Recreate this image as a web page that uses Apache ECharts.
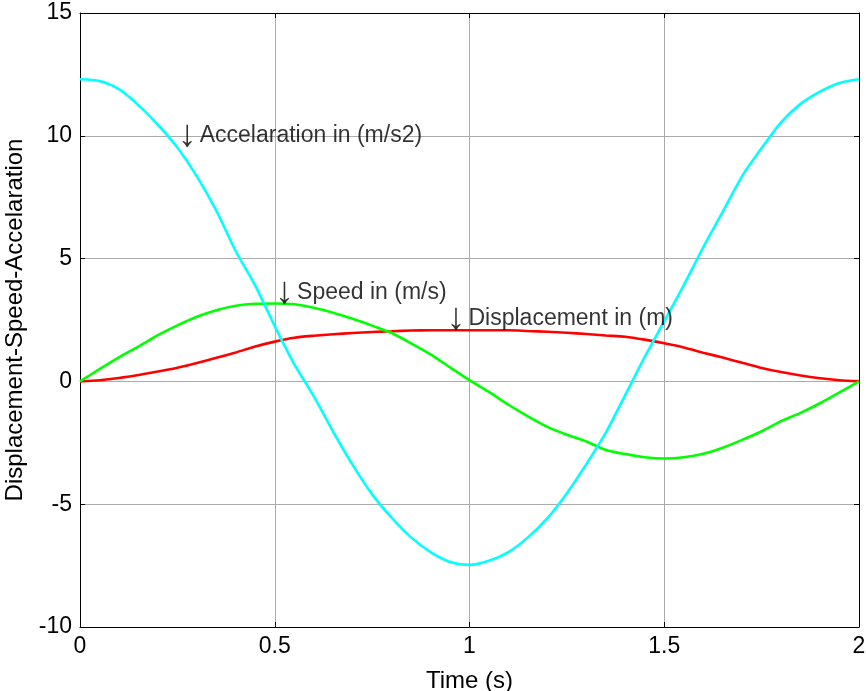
<!DOCTYPE html>
<html><head><meta charset="utf-8">
<script src="https://cdn.jsdelivr.net/npm/echarts@6/dist/echarts.min.js"></script>
<style>html,body{margin:0;padding:0;background:#fff}#c{width:866px;height:691px}</style>
</head><body><div id="c"></div>
<script>
const time = [0, 0.05, 0.1, 0.15, 0.2, 0.25, 0.3, 0.35, 0.4, 0.45, 0.5, 0.55, 0.6, 0.65, 0.7, 0.75, 0.8, 0.85, 0.9, 0.95, 1, 1.05, 1.1, 1.15, 1.2, 1.25, 1.3, 1.35, 1.4, 1.45, 1.5, 1.55, 1.6, 1.65, 1.7, 1.75, 1.8, 1.85, 1.9, 1.95, 2];
const displacement = [0, 0.05, 0.14, 0.26, 0.40, 0.56, 0.75, 0.96, 1.18, 1.42, 1.62, 1.78, 1.86, 1.92, 1.97, 2.01, 2.04, 2.07, 2.08, 2.08, 2.08, 2.08, 2.08, 2.05, 2.02, 1.98, 1.93, 1.87, 1.82, 1.70, 1.55, 1.38, 1.17, 0.97, 0.76, 0.55, 0.38, 0.24, 0.13, 0.05, 0];
const speed = [0, 0.50, 0.98, 1.42, 1.88, 2.28, 2.63, 2.90, 3.08, 3.16, 3.17, 3.14, 3.00, 2.80, 2.55, 2.27, 1.97, 1.55, 1.10, 0.57, 0.05, -0.43, -0.95, -1.42, -1.85, -2.17, -2.45, -2.79, -2.96, -3.09, -3.14, -3.09, -2.95, -2.70, -2.38, -2.03, -1.62, -1.28, -0.89, -0.45, 0];
const acceleration = [12.30, 12.23, 11.90, 11.25, 10.45, 9.52, 8.35, 6.95, 5.30, 3.90, 2.25, 0.70, -0.60, -2.05, -3.40, -4.60, -5.55, -6.35, -6.95, -7.35, -7.47, -7.30, -6.95, -6.35, -5.57, -4.55, -3.37, -2.09, -0.55, 1.00, 2.45, 3.91, 5.46, 6.90, 8.36, 9.50, 10.55, 11.30, 11.80, 12.15, 12.30];
const annotationText = ['Accelaration in (m/s2)', 'Speed in (m/s)', 'Displacement in (m)'];
const annotationX = [0.25, 0.5, 0.94];
const annotationY = [10, 3.6, 2.55];
const xLabel = 'Time (s)';
const yLabel = 'Displacement-Speed-Accelaration';

const FONT = 'Arial, "Liberation Sans", Helvetica, sans-serif';
const chart = echarts.init(document.getElementById('c'), null, {renderer: 'canvas'});
const pairs = arr => time.map((t, i) => [t, arr[i]]);
const lineSeries = (name, arr, color) => ({
  name, type: 'line', data: pairs(arr), showSymbol: false, symbol: 'none',
  smooth: 0.25,
  lineStyle: {color, width: 2.6}, itemStyle: {color}, silent: true, animation: false
});
const baseAxis = {
  type: 'value',
  axisLine: {show: true, onZero: false, lineStyle: {color: '#000', width: 1}},
  axisTick: {show: true, inside: true, length: 5, lineStyle: {color: '#000'}},
};
chart.setOption({
  animation: false,
  backgroundColor: '#fff',
  grid: {left: 80, right: 7, top: 13, bottom: 64, containLabel: false, outerBoundsMode: 'none'},
  xAxis: [
    Object.assign({}, baseAxis, {
      min: 0, max: 2, interval: 0.5, position: 'bottom',
      axisLabel: {color: '#000', fontSize: 23, fontFamily: FONT, margin: 8},
      splitLine: {show: true, lineStyle: {color: '#ababab', width: 1}},
      name: xLabel, nameLocation: 'middle', nameGap: 42,
      nameTextStyle: {color: '#000', fontSize: 24, fontFamily: FONT}
    }),
    Object.assign({}, baseAxis, {
      min: 0, max: 2, interval: 0.5, position: 'top',
      axisLabel: {show: false}, splitLine: {show: false}
    })
  ],
  yAxis: [
    Object.assign({}, baseAxis, {
      min: -10, max: 15, interval: 5, position: 'left',
      axisLabel: {color: '#000', fontSize: 23, fontFamily: FONT, margin: 8},
      splitLine: {show: true, lineStyle: {color: '#ababab', width: 1}},
      name: yLabel, nameLocation: 'middle', nameGap: 50, nameRotate: 90,
      nameTextStyle: {color: '#000', fontSize: 24, fontFamily: FONT}
    }),
    Object.assign({}, baseAxis, {
      min: -10, max: 15, interval: 5, position: 'right',
      axisLabel: {show: false}, splitLine: {show: false}
    })
  ],
  series: [
    lineSeries('Displacement', displacement, '#ff0000'),
    lineSeries('Speed', speed, '#00ff00'),
    lineSeries('Acceleration', acceleration, '#00ffff'),
    {
      type: 'scatter', silent: true, symbolSize: 0, z: 10,
      data: annotationX.map((x, i) => ({value: [x, annotationY[i]], name: annotationText[i]})),
      label: {show: true, position: 'right', distance: 0,
        formatter: p => '{a|\u2193} {t|' + p.name + '}',
        rich: {
          a: {fontFamily: '"Liberation Sans", Arial, sans-serif', fontSize: 38, color: '#000', verticalAlign: 'middle'},
          t: {fontFamily: FONT, fontSize: 23, color: '#000', verticalAlign: 'middle'}
        }}
    }
  ]
});
</script></body></html>
